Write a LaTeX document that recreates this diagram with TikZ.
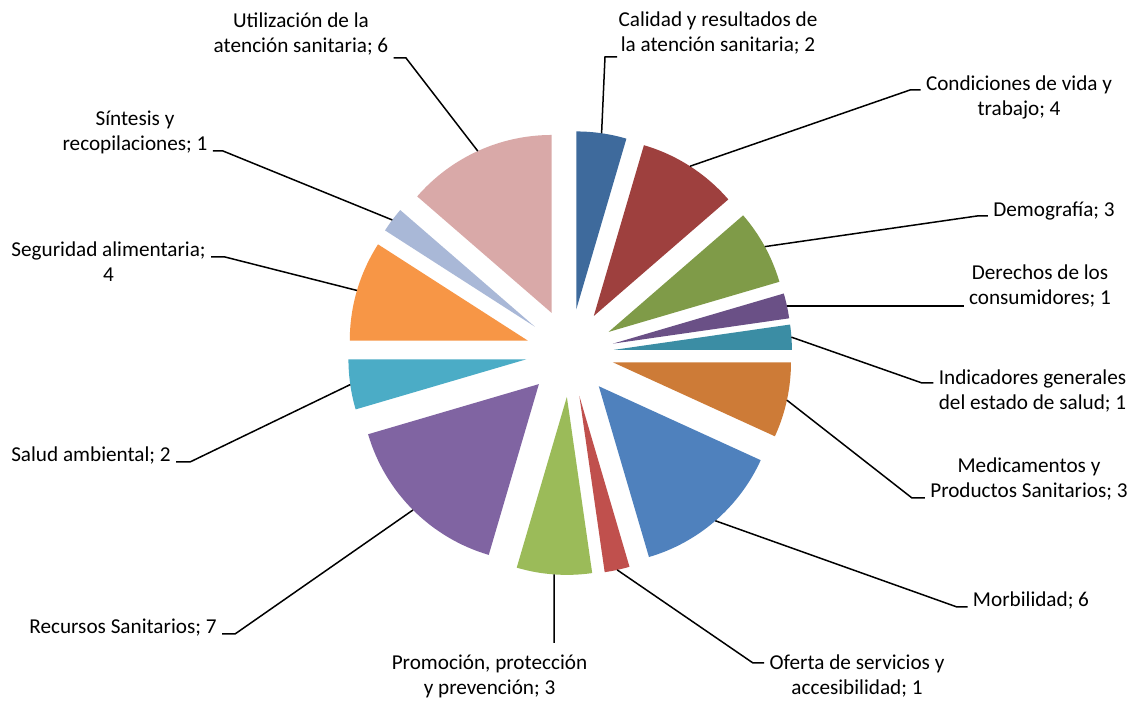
\documentclass[tikz,border=0pt]{standalone}
\usepackage{fontspec}
\setmainfont{Carlito}
\usetikzlibrary{positioning}

\definecolor{ccalidad}{HTML}{3E6A9C}
\definecolor{ccondiciones}{HTML}{9E403E}
\definecolor{cdemografia}{HTML}{7F9B48}
\definecolor{cderechos}{HTML}{6A5086}
\definecolor{cindicadores}{HTML}{3B8DA4}
\definecolor{cmedicamentos}{HTML}{CD7B37}
\definecolor{cmorbilidad}{HTML}{4F81BD}
\definecolor{coferta}{HTML}{C0504D}
\definecolor{cpromocion}{HTML}{9BBB59}
\definecolor{crecursos}{HTML}{8064A2}
\definecolor{csalud}{HTML}{4BACC6}
\definecolor{cseguridad}{HTML}{F79646}
\definecolor{csintesis}{HTML}{A9B8D7}
\definecolor{cutilizacion}{HTML}{D9A9A8}

\tikzset{
  label text/.style={align=center, anchor=base, inner xsep=2.5pt, inner ysep=1pt,
    font=\fontsize{10.6}{12.5}\selectfont},
  leader/.style={draw=black, line width=0.75pt}
}

\begin{document}
\begin{tikzpicture}[x=0.5pt, y=0.5pt]
        \path[fill=white] (0,0) rectangle (1137,702);
        \useasboundingbox (0,0) rectangle (1137,702);
        \coordinate (C) at (570,349);

        % slices, clockwise from the top, 44 in total
        \begin{scope}[shift={(C)}]
        \foreach \s/\e/\name in {0/2/calidad, 2/6/condiciones, 6/9/demografia,
            9/10/derechos, 10/11/indicadores, 11/14/medicamentos, 14/20/morbilidad,
            20/21/oferta, 21/24/promocion, 24/31/recursos, 31/33/salud,
            33/37/seguridad, 37/38/sintesis, 38/44/utilizacion} {
            \pgfmathsetmacro{\aone}{90-\e*360/44}
            \pgfmathsetmacro{\atwo}{90-\s*360/44}
            \pgfmathsetmacro{\amid}{(\aone+\atwo)/2}
            \fill[fill=c\name] (\amid:22pt) -- ++(\aone:89pt)
                arc[start angle=\aone, end angle=\atwo, radius=89pt] -- cycle;
            \coordinate (a-\name) at (\amid:111pt);
        }
        \end{scope}

        % labels (placed at the baseline of their last line)
        \node[label text] (l-calidad)      at (718,650.3) {Calidad y resultados de\\la atención sanitaria; 2};
        \node[label text] (l-condiciones)  at (1019,586)  {Condiciones de vida y\\trabajo; 4};
        \node[label text] (l-demografia)   at (1054,485)  {Demografía; 3};
        \node[label text] (l-derechos)     at (1040,397)  {Derechos de los\\consumidores; 1};
        \node[label text] (l-indicadores)  at (1032.5,292) {Indicadores generales\\del estado de salud; 1};
        \node[label text] (l-medicamentos) at (1029,204)  {Medicamentos y\\Productos Sanitarios; 3};
        \node[label text] (l-morbilidad)   at (1031,95)   {Morbilidad; 6};
        \node[label text] (l-oferta)       at (857,7)     {Oferta de servicios y\\accesibilidad; 1};
        \node[label text] (l-promocion)    at (489.5,7)   {Promoción, protección\\y prevención; 3};
        \node[label text] (l-recursos)     at (123,68)    {Recursos Sanitarios; 7};
        \node[label text] (l-salud)        at (91,240)    {Salud ambiental; 2};
        \node[label text] (l-seguridad)    at (108.5,420) {Seguridad alimentaria;\\4};
        \node[label text] (l-sintesis)     at (135,551)   {Síntesis y\\recopilaciones; 1};
        \node[label text] (l-utilizacion)  at (301,649)   {Utilización de la\\atención sanitaria; 6};

        % knees of the leader lines
        \coordinate (k-calidad)      at (605,645);
        \coordinate (k-condiciones)  at (910,612);
        \coordinate (k-demografia)   at (977,486);
        \coordinate (k-indicadores)  at (922,319);
        \coordinate (k-medicamentos) at (912,204);
        \coordinate (k-morbilidad)   at (957,95);
        \coordinate (k-oferta)       at (753,39);
        \coordinate (k-promocion)    at (554,59);
        \coordinate (k-recursos)     at (235,68);
        \coordinate (k-salud)        at (190,240);
        \coordinate (k-seguridad)    at (225,445);
        \coordinate (k-sintesis)     at (223,551);
        \coordinate (k-utilizacion)  at (406,644);

        \draw[leader] (a-calidad)      -- (k-calidad)      -- ++(12,0);
        \draw[leader] (a-condiciones)  -- (k-condiciones)  -- (k-condiciones -| l-condiciones.west);
        \draw[leader] (a-demografia)   -- (k-demografia)   -- (k-demografia -| l-demografia.west);
        \draw[leader] (a-derechos)     -- (a-derechos -| l-derechos.west);
        \draw[leader] (a-indicadores)  -- (k-indicadores)  -- (k-indicadores -| l-indicadores.west);
        \draw[leader] (a-medicamentos) -- (k-medicamentos) -- (k-medicamentos -| l-medicamentos.west);
        \draw[leader] (a-morbilidad)   -- (k-morbilidad)   -- (k-morbilidad -| l-morbilidad.west);
        \draw[leader] (a-oferta)       -- (k-oferta)       -- (k-oferta -| l-oferta.west);
        \draw[leader] (a-promocion)    -- (k-promocion);
        \draw[leader] (a-recursos)     -- (k-recursos)     -- (k-recursos -| l-recursos.east);
        \draw[leader] (a-salud)        -- (k-salud)        -- (k-salud -| l-salud.east);
        \draw[leader] (a-seguridad)    -- (k-seguridad)    -- (k-seguridad -| l-seguridad.east);
        \draw[leader] (a-sintesis)     -- (k-sintesis)     -- (k-sintesis -| l-sintesis.east);
        \draw[leader] (a-utilizacion)  -- (k-utilizacion)  -- (k-utilizacion -| l-utilizacion.east);
\end{tikzpicture}
\end{document}
